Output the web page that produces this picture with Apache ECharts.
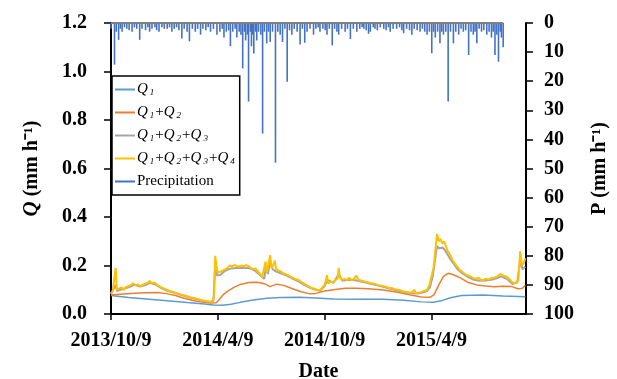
<!DOCTYPE html>
<html>
<head>
<meta charset="utf-8">
<script src="https://cdn.jsdelivr.net/npm/echarts@6/dist/echarts.min.js"></script>
<style>html,body{margin:0;padding:0;background:#fff}#chart{width:617px;height:379px}</style>
</head>
<body>
<div id="chart"></div>
<script>
// x values are days counted from 2013/10/9
const xTickLabels = ['2013/10/9', '2014/4/9', '2014/10/9', '2015/4/9'];
const xStep = 182.5;
const xMax = 709;

const q1 = [[0,0.076],[30,0.068],[60,0.062],[96,0.055],[130,0.047],[160,0.041],[175,0.037],[190,0.036],
  [205,0.04],[221,0.048],[240,0.057],[266,0.065],[290,0.068],[323,0.069],[350,0.066],[380,0.062],
  [420,0.061],[465,0.061],[500,0.057],[530,0.05],[550,0.048],[565,0.055],[580,0.067],[599,0.076],
  [636,0.078],[670,0.074],[708,0.071]];

const q12 = [[0,0.078],[20,0.082],[40,0.086],[60,0.088],[79,0.089],[95,0.084],[110,0.076],[125,0.065],
  [140,0.056],[155,0.049],[170,0.045],[180,0.046],[185,0.06],[192,0.08],[200,0.095],[210,0.11],
  [221,0.122],[235,0.13],[250,0.131],[262,0.125],[272,0.113],[283,0.123],[295,0.118],[310,0.104],
  [325,0.092],[340,0.083],[350,0.085],[365,0.095],[380,0.1],[400,0.106],[420,0.106],[440,0.104],
  [465,0.099],[490,0.09],[510,0.079],[530,0.07],[545,0.069],[552,0.08],[560,0.12],[568,0.155],
  [576,0.168],[585,0.162],[596,0.15],[610,0.13],[625,0.12],[640,0.115],[655,0.112],[670,0.114],
  [685,0.113],[695,0.104],[702,0.105],[708,0.118]];

const q123 = [[0,0.082],[8,0.12],[10,0.095],[20,0.103],[30,0.11],[40,0.12],[50,0.113],[60,0.12],
  [66,0.128],[75,0.123],[85,0.108],[95,0.097],[105,0.09],[115,0.082],[125,0.075],[136,0.067],
  [148,0.06],[160,0.053],[170,0.049],[175,0.055],[178,0.2],[181,0.16],[186,0.16],[195,0.178],
  [205,0.188],[215,0.19],[225,0.19],[235,0.19],[245,0.18],[255,0.16],[262,0.145],[264,0.19],
  [268,0.165],[272,0.22],[276,0.185],[282,0.175],[290,0.168],[300,0.158],[310,0.146],[320,0.135],
  [330,0.12],[340,0.108],[350,0.1],[357,0.096],[365,0.115],[370,0.14],[380,0.128],[389,0.165],
  [395,0.137],[405,0.14],[415,0.14],[425,0.135],[435,0.13],[445,0.124],[455,0.118],[465,0.112],
  [475,0.105],[485,0.1],[495,0.094],[505,0.089],[515,0.086],[525,0.085],[535,0.09],[540,0.095],
  [545,0.11],[550,0.16],[554,0.23],[557,0.28],[561,0.27],[566,0.275],[570,0.265],[575,0.245],
  [580,0.225],[586,0.205],[592,0.185],[600,0.168],[610,0.152],[620,0.141],[630,0.137],[640,0.138],
  [650,0.141],[660,0.148],[666,0.155],[676,0.145],[686,0.124],[694,0.13],[699,0.22],[703,0.185],
  [708,0.195]];

const q1234 = [[0,0.085],[3,0.095],[6,0.1],[8,0.19],[10,0.1],[14,0.105],[18,0.11],[22,0.1],
  [26,0.112],[30,0.115],[34,0.12],[38,0.127],[42,0.118],[46,0.122],[50,0.115],[54,0.12],[58,0.125],
  [62,0.128],[66,0.136],[70,0.125],[74,0.13],[78,0.122],[82,0.115],[86,0.11],[90,0.105],[95,0.1],
  [100,0.095],[105,0.092],[110,0.088],[115,0.084],[120,0.08],[125,0.077],[130,0.073],[136,0.069],
  [142,0.066],[148,0.062],[154,0.058],[160,0.055],[166,0.053],[170,0.05],[174,0.056],[176,0.07],
  [178,0.24],[180,0.2],[182,0.17],[185,0.165],[188,0.175],[191,0.18],[195,0.185],[199,0.19],
  [203,0.2],[207,0.196],[211,0.202],[215,0.198],[219,0.195],[223,0.2],[227,0.196],[231,0.202],
  [235,0.197],[239,0.19],[243,0.185],[247,0.188],[251,0.175],[255,0.165],[258,0.15],[261,0.147],
  [264,0.216],[266,0.17],[269,0.175],[272,0.243],[274,0.19],[277,0.2],[280,0.22],[282,0.185],
  [286,0.18],[290,0.175],[294,0.168],[298,0.165],[302,0.16],[306,0.155],[310,0.15],[314,0.145],
  [318,0.142],[322,0.138],[327,0.13],[332,0.122],[337,0.115],[342,0.108],[347,0.104],[352,0.1],
  [357,0.098],[361,0.11],[365,0.12],[369,0.16],[371,0.125],[375,0.135],[379,0.13],[383,0.14],
  [387,0.145],[389,0.19],[391,0.15],[395,0.14],[399,0.145],[403,0.14],[407,0.15],[411,0.138],
  [415,0.145],[419,0.158],[423,0.14],[427,0.138],[431,0.135],[435,0.133],[440,0.13],[445,0.127],
  [450,0.125],[455,0.12],[460,0.118],[465,0.115],[470,0.112],[475,0.108],[480,0.106],[485,0.102],
  [490,0.1],[495,0.097],[500,0.093],[505,0.092],[510,0.088],[515,0.09],[518,0.1],[521,0.087],
  [525,0.088],[530,0.09],[535,0.095],[540,0.099],[544,0.12],[548,0.16],[551,0.19],[554,0.26],
  [557,0.33],[560,0.3],[563,0.31],[566,0.29],[569,0.3],[572,0.28],[575,0.26],[578,0.25],
  [581,0.235],[585,0.216],[590,0.2],[596,0.181],[602,0.17],[608,0.16],[614,0.155],[619,0.147],
  [624,0.145],[628,0.15],[632,0.14],[636,0.14],[640,0.145],[645,0.142],[650,0.148],[655,0.15],
  [660,0.155],[665,0.165],[670,0.158],[676,0.154],[680,0.145],[684,0.135],[688,0.127],[692,0.13],
  [696,0.14],[699,0.26],[702,0.2],[705,0.21],[708,0.23]];

// precipitation events (day, mm/h)
const precip = [[0,2],[6,14.3],[9,3],[13,5.8],[16,2],[19,3],[23,1.5],[27,2],[31,2.5],[36,3],[40,1.5],
  [44,2],[49,5.8],[53,2],[59,2.5],[63,1.5],[66,3],[70,2],[75,1.5],[78,2.5],[82,3],[87,1.5],[91,2],
  [96,2],[100,1.5],[104,3],[108,2],[112,1.5],[116,2.5],[121,5.3],[125,2],[130,3],[134,6.3],[139,2],
  [144,3],[148,2],[153,4],[157,2],[162,2.5],[166,1.5],[170,3],[175,2],[181,4],[186,3],[190,2],
  [193,5],[197,3],[201,2.5],[204,8],[208,3],[212,2],[215,5],[219,3],[222,4],[225,15.6],[228,3],
  [230,6],[233,4],[235,27],[238,3],[240,8],[242,4],[244,10.5],[247,3],[249,6],[252,3],[256,4],
  [259,38],[262,3],[266,7],[269,3],[272,6.5],[276,3],[281,48],[285,3],[289,4],[293,6.5],[297,2],
  [301,20.2],[305,2.5],[309,4],[313,2],[318,3],[323,7.4],[327,2],[331,6.8],[335,3],[340,2],
  [346,4],[350,2],[354,1.5],[357,3],[362,2],[366,2.5],[369,4],[373,2],[378,7.7],[382,2],[386,3],
  [389,4],[394,2],[400,3],[404,2],[409,5.5],[414,2],[420,3],[425,2],[429,1.5],[432,2],[436,2.5],
  [440,3.7],[443,3],[448,1.5],[451,2],[455,2.5],[460,1.5],[466,2],[470,2.5],[474,1.5],[477,3],
  [482,2],[488,2],[493,1.5],[497,2.5],[500,3.5],[505,2],[510,2.5],[514,4],[518,2],[523,2.5],
  [528,3],[532,2],[536,3],[540,4],[544,3],[548,10.4],[551,3],[554,5],[558,3],[562,7],[565,3],
  [568,4],[572,3],[576,27],[580,3],[585,7],[589,3],[594,4],[598,2],[602,3],[606,2.5],[611,11],
  [615,3],[619,4],[622,3],[625,7],[629,2],[633,3],[637,2.5],[642,4],[646,3],[650,5],[653,3],
  [656,11],[659,4],[662,13.3],[665,3],[667,5],[670,8.3]];

const serif = '"Liberation Serif", "Times New Roman", serif';
const chart = echarts.init(document.getElementById('chart'));

const precipBase = [[precip[0][0], 0], [precip[precip.length - 1][0], 0]];

function lineSeries(name, data, color, width) {
  return {
    name: name, type: 'line', data: data, symbol: 'none', smooth: false,
    lineStyle: { color: color, width: width }, itemStyle: { color: color }, z: 3
  };
}

const option = {
  animation: false,
  grid: { left: 111, right: 91, top: 23, bottom: 65, outerBoundsMode: 'none', containLabel: false },
  legend: {
    data: ['Q1', 'Q1+Q2', 'Q1+Q2+Q3', 'Q1+Q2+Q3+Q4', 'Precipitation'],
    orient: 'vertical', left: 112, top: 76,
    icon: 'rect', itemWidth: 20, itemHeight: 2, itemGap: 8,
    backgroundColor: '#fff', borderColor: '#000', borderWidth: 1.5, borderRadius: 0,
    padding: [6, 5, 6, 3],
    formatter: function (name) {
      if (name === 'Precipitation') return '{t|Precipitation}';
      return name.split('+').map(p => '{q|Q}{s|' + p.slice(1) + '}').join('{p|+}');
    },
    textStyle: {
      fontFamily: serif, fontSize: 15, color: '#000', padding: [0, 0, 0, -3],
      rich: {
        q: { fontFamily: serif, fontStyle: 'italic', fontSize: 15, color: '#000' },
        s: { fontFamily: serif, fontStyle: 'italic', fontSize: 9, color: '#000', padding: [6, 1, 0, 2] },
        p: { fontFamily: serif, fontSize: 15, color: '#000' },
        t: { fontFamily: serif, fontSize: 15, color: '#000' }
      }
    }
  },
  xAxis: {
    type: 'value', min: 0, max: xMax, interval: xStep,
    name: 'Date', nameLocation: 'middle', nameGap: 48,
    nameTextStyle: { fontFamily: serif, fontSize: 20, fontWeight: 'bold', color: '#000' },
    axisLine: { lineStyle: { color: '#000', width: 2 } },
    axisTick: { show: true, length: 6, lineStyle: { color: '#000', width: 1.5 } },
    splitLine: { show: false },
    axisLabel: {
      margin: 17, fontFamily: serif, fontSize: 20, fontWeight: 'bold', color: '#000',
      showMaxLabel: false,
      formatter: function (v) {
        const i = Math.round(v / xStep);
        return Math.abs(v - i * xStep) < 0.01 && xTickLabels[i] ? xTickLabels[i] : '';
      }
    }
  },
  yAxis: [{
    type: 'value', min: 0, max: 1.2, interval: 0.2,
    name: '{qi|Q} (mm h⁻¹)', nameLocation: 'middle', nameGap: 69,
    nameTextStyle: {
      fontFamily: serif, fontSize: 20, fontWeight: 'bold', color: '#000',
      rich: { qi: { fontFamily: serif, fontSize: 21, fontWeight: 'bold', fontStyle: 'italic', color: '#000' } }
    },
    axisLine: { show: true, lineStyle: { color: '#000', width: 2 } },
    axisTick: { show: true, length: 7, lineStyle: { color: '#000', width: 1.5 } },
    splitLine: { show: false },
    axisLabel: {
      margin: 24, fontFamily: serif, fontSize: 20, fontWeight: 'bold', color: '#000',
      formatter: v => v.toFixed(1)
    }
  }, {
    type: 'value', min: 0, max: 100, interval: 10, inverse: true, position: 'right',
    name: 'P (mm h⁻¹)', nameLocation: 'middle', nameGap: 64,
    nameTextStyle: { fontFamily: serif, fontSize: 20, fontWeight: 'bold', color: '#000' },
    axisLine: { show: true, lineStyle: { color: '#000', width: 2 } },
    axisTick: { show: true, length: 7, lineStyle: { color: '#000', width: 1.5 } },
    splitLine: { show: false },
    axisLabel: { margin: 18, fontFamily: serif, fontSize: 20, fontWeight: 'bold', color: '#000' }
  }],
  series: [
    {
      name: 'Precipitation', type: 'bar', yAxisIndex: 1, data: precip, barWidth: 1.6,
      itemStyle: { color: '#4472C4' }, z: 2
    },
    {
      name: 'base', type: 'line', yAxisIndex: 1, data: precipBase, symbol: 'none', silent: true,
      lineStyle: { color: '#7f7f7f', width: 2 }, z: 2
    },
    lineSeries('Q1', q1, '#5B9BD5', 1.5),
    lineSeries('Q1+Q2', q12, '#ED7D31', 1.5),
    lineSeries('Q1+Q2+Q3', q123, '#A5A5A5', 2),
    lineSeries('Q1+Q2+Q3+Q4', q1234, '#FFC000', 2)
  ]
};

chart.setOption(option);
</script>
</body>
</html>
